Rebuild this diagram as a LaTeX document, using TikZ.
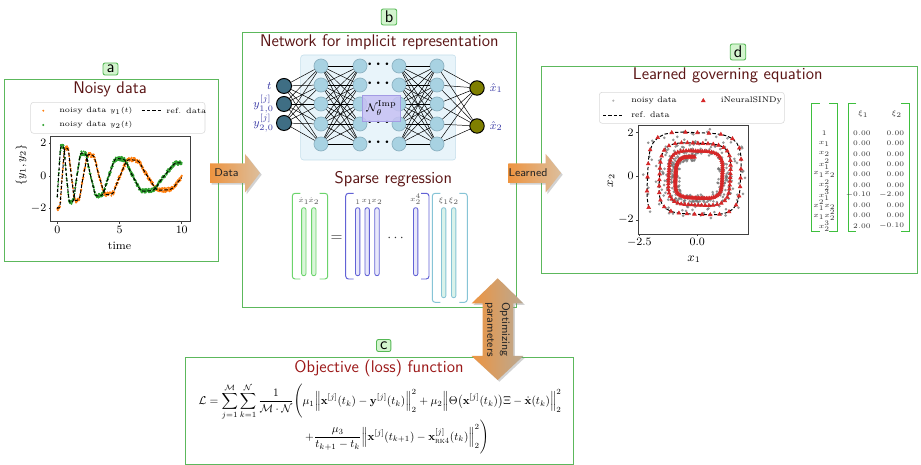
\documentclass[tikz,border=0pt]{standalone}
\usepackage{amsmath}
\usepackage{amssymb}
\usepackage{graphicx}
\usetikzlibrary{arrows.meta,calc,positioning,shadows,plotmarks}

\definecolor{boxgreen}{HTML}{5CB85C}
\definecolor{tagfill}{HTML}{D3F4CE}
\definecolor{tagline}{HTML}{55B855}
\definecolor{ttlred}{HTML}{5B1515}
\definecolor{lossred}{HTML}{9C1818}
\definecolor{inpcol}{HTML}{3F6E84}
\definecolor{hidcol}{HTML}{A8D2E2}
\definecolor{hidline}{HTML}{8CB2C2}
\definecolor{outcol}{HTML}{7F7F00}
\definecolor{netbg}{HTML}{E8F4FA}
\definecolor{netline}{HTML}{C4DEEB}
\definecolor{impfill}{HTML}{C7C1F3}
\definecolor{impline}{HTML}{A39BE4}
\definecolor{vlabel}{HTML}{3A3AA6}
\definecolor{mplorange}{HTML}{FF7F0E}
\definecolor{mplgreen}{HTML}{2CA02C}
\definecolor{mplred}{HTML}{D62728}
\definecolor{lhsline}{HTML}{6CD46C}
\definecolor{lhsfill}{HTML}{DAF6DA}
\definecolor{thline}{HTML}{6262D6}
\definecolor{thfill}{HTML}{E8E8FA}
\definecolor{xiline}{HTML}{86C4D6}
\definecolor{xifill}{HTML}{D9F2EA}
\definecolor{tabgreen}{HTML}{3DBF3D}
\definecolor{arrorange}{HTML}{EE9440}
\definecolor{arrtan}{HTML}{DCBE9C}
\definecolor{arrgray}{HTML}{B9A993}

\begin{document}
\pgfmathsetseed{42}
\begin{tikzpicture}[
    x=0.025cm, y=-0.025cm,
    declare function={
      amp(\s)=2/sqrt(1+0.525*\s);
      ph(\s)=deg(11.4*ln(1+0.525*\s)-2.17);
      sq(\a)=sqrt(sqrt(cos(\a)*cos(\a)*cos(\a)*cos(\a)+sin(\a)*sin(\a)*sin(\a)*sin(\a)));
      ya(\s)=amp(\s)*sin(ph(\s))/sq(ph(\s));
      yb(\s)=amp(\s)*cos(ph(\s))/sq(ph(\s));
    },
    panel/.style={draw=boxgreen, line width=0.6pt},
    tag/.style={draw=tagline, fill=tagfill, rounded corners=1.5pt, line width=0.6pt,
                font=\sffamily\fontsize{12}{12}\selectfont, inner xsep=2.5pt, inner ysep=1.5pt},
    ttl/.style={font=\sffamily\fontsize{12}{14}\selectfont, text=ttlred},
    inp/.style={circle, draw=black, fill=inpcol, line width=0.7pt, minimum size=0.375cm, inner sep=0pt},
    hid/.style={circle, draw=hidline, fill=hidcol, line width=0.5pt, minimum size=0.35cm, inner sep=0pt},
    outn/.style={circle, draw=black, fill=outcol, line width=0.7pt, minimum size=0.36cm, inner sep=0pt},
    wire/.style={line width=0.35pt, draw=black},
    vlab/.style={text=vlabel, font=\fontsize{8}{9}\selectfont, inner sep=0.5pt},
    mcol/.style={rectangle, rounded corners=1.5pt, line width=0.6pt, minimum width=0.11cm,
                 minimum height=1.7cm, inner sep=0pt},
    gcol/.style={mcol, draw=lhsline, fill=lhsfill},
    bcol/.style={mcol, draw=thline, fill=thfill},
    ccol/.style={mcol, draw=xiline, fill=xifill, minimum height=2.25cm},
    mlab/.style={text=gray!70!black, font=\fontsize{5.5}{6}\selectfont, inner sep=0.5pt},
    brak/.style={line width=0.7pt, rounded corners=2pt},
    frame/.style={draw=black!75, line width=0.5pt},
    tick/.style={font=\fontsize{8}{9}\selectfont, inner sep=1.5pt},
    legbox/.style={draw=black!15, fill=white, rounded corners=2pt, line width=0.4pt},
    legt/.style={font=\fontsize{5.4}{6}\selectfont, anchor=west, inner sep=0pt},
    refline/.style={black, line width=0.7pt, dash pattern=on 2.4pt off 1.4pt},
    tabt/.style={font=\fontsize{5.5}{6}\selectfont, text=black!80, inner sep=0pt},
    blockarr/.style={drop shadow={opacity=0.35, shadow xshift=1.2pt, shadow yshift=-1.2pt},
                     left color=arrorange, right color=arrtan},
    arrt/.style={font=\sffamily\fontsize{8}{10.5}\selectfont, text=black!85, align=center},
  ]
  \useasboundingbox (0,0) rectangle (921,465);
  \fill[white] (0,0) rectangle (921,465);

  % ---------------- (a) noisy data ----------------
  \draw[panel] (4,79) rectangle (218.3,261.7);
  \node[tag] (taga) at (110.5,69) {a};
  \node[ttl] (ttla) at (110,89.5) {Noisy data};

  \draw[legbox] (30.7,102.3) rectangle (205,133.3);
  \fill[mplorange] (43.3,110.7) circle (1.1);
  \fill[mplgreen] (43.3,125) circle (1.1);
  \node[legt] at (59,110.7) {noisy data $y_1(t)$};
  \node[legt] at (59,125) {noisy data $y_2(t)$};
  \draw[refline] (141.7,110.7) -- (161.7,110.7);
  \node[legt] at (166,110.7) {ref. data};

  \begin{scope}[shift={(57.3,176)}, x=0.311cm, y=0.41cm]
    \begin{scope}
      \clip (-0.53,-2.79) rectangle (10.67,2.40);
      \draw[mplorange] plot[only marks, mark=*, mark size=0.45pt, samples=420, domain=0:10]
        (\x,{ya(\x)+0.13*rand});
      \draw[mplgreen] plot[only marks, mark=*, mark size=0.45pt, samples=420, domain=0:10]
        (\x,{yb(\x)+0.13*rand});
      \draw[refline] plot[samples=300, domain=0:10] (\x,{ya(\x)});
      \draw[refline] plot[samples=300, domain=0:10] (\x,{yb(\x)});
    \end{scope}
    \draw[frame] (-0.53,-2.79) rectangle (10.67,2.40);
    \foreach \t in {0,5,10}
      \draw[frame] (\t,-2.79) -- ++(0,-0.12) node[tick, below] {$\t$};
    \foreach \v in {-2,0,2}
      \draw[frame] (-0.53,\v) -- ++(-0.16,0) node[tick, left] {$\v$};
    \node[tick] (tlab) at (5,-4.25) {time};
    \node[tick, rotate=90] (ylab) at (-2.9,0.67) {$\{y_1,y_2\}$};
  \end{scope}

  % ---------------- (b) network + sparse regression ----------------
  \draw[panel] (242.3,32.3) rectangle (516.7,307.7);
  \node[tag] (tagb) at (389,17) {b};
  \node[ttl] (ttlb) at (379.3,42.7) {Network for implicit representation};

  \draw[draw=netline, fill=netbg, rounded corners=2pt] (300.7,55) rectangle (455.7,160);

  \foreach \i/\y in {1/86,2/104,3/123}
    \node[inp] (in\i) at (284,\y) {};
  \foreach \c/\x in {1/321,2/360,3/399,4/437}
    \foreach \r/\y in {1/66,2/85,3/104,4/124,5/144}
      \node[hid] (h\c\r) at (\x,\y) {};
  \node[outn] (out1) at (477,88) {};
  \node[outn] (out2) at (477,126) {};

  \foreach \a in {1,2,3}
    \foreach \b in {1,...,5}
      \draw[wire] (in\a) -- (h1\b);
  \foreach \a in {1,...,5}
    \foreach \b in {1,...,5} {
      \draw[wire] (h1\a) -- (h2\b);
      \draw[wire] (h3\a) -- (h4\b);
    }
  \foreach \a in {1,...,5}
    \foreach \b in {1,2}
      \draw[wire] (h4\a) -- (out\b);

  \foreach \y in {66,85,124,144}
    \node[font=\large] at (380,\y-1.5) {$\boldsymbol{\cdots}$};
  \node[draw=impline, fill=impfill, fill opacity=0.85, text opacity=1, minimum width=0.94cm,
        minimum height=0.67cm, inner sep=0pt, font=\fontsize{8}{9}\selectfont] (nimp)
        at (381.5,108.3) {$\mathcal{N}_\theta^{\mathrm{Imp}}$};

  \node[vlab, left=2.5pt of in1] (lt) {$t$};
  \node[vlab, left=1pt of in2] (ly1) {$y^{[j]}_{1,0}$};
  \node[vlab, left=1pt of in3] (ly2) {$y^{[j]}_{2,0}$};
  \node[vlab, right=3pt of out1] (lx1) {$\hat{x}_1$};
  \node[vlab, right=3pt of out2] (lx2) {$\hat{x}_2$};

  \node[ttl] (ttlsr) at (393.3,179.5) {Sparse regression};

  % left-hand side, library and coefficient columns
  \draw[brak, lhsline] (300.3,193.3) -- (292.3,193.3) -- (292.3,279) -- (300.3,279);
  \draw[brak, lhsline] (319.7,193.3) -- (327.7,193.3) -- (327.7,279) -- (319.7,279);
  \draw[brak, thline] (353.7,193.3) -- (345.7,193.3) -- (345.7,279) -- (353.7,279);
  \draw[brak, thline] (421,193.3) -- (429,193.3) -- (429,279) -- (421,279);
  \draw[brak, xiline] (440.3,193.3) -- (432.3,193.3) -- (432.3,302.3) -- (440.3,302.3);
  \draw[brak, xiline] (459.3,193.3) -- (467.3,193.3) -- (467.3,302.3) -- (459.3,302.3);

  \node[gcol] (xd1) at (303.8,241.7) {};
  \node[gcol] (xd2) at (313.8,241.7) {};
  \node[bcol] (th1) at (357.7,241.7) {};
  \node[bcol] (th2) at (367.2,241.7) {};
  \node[bcol] (th3) at (377,241.7) {};
  \node[bcol] (th4) at (415.7,241.7) {};
  \node[ccol] (xi1) at (443.7,252.7) {};
  \node[ccol] (xi2) at (453.7,252.7) {};

  \node[mlab, above=1pt of xd1] {$\dot{x}_1$};
  \node[mlab, above=1pt of xd2] {$\dot{x}_2$};
  \node[mlab, above=1pt of th1] {$1$};
  \node[mlab, above=1pt of th2] {$x_1$};
  \node[mlab, above=1pt of th3] {$x_2$};
  \node[mlab, above=1pt of th4] {$x_2^4$};
  \node[mlab, above=1pt of xi1] {$\xi_1$};
  \node[mlab, above=1pt of xi2] {$\xi_2$};
  \node[font=\fontsize{11}{12}\selectfont, text=black!80] (eq) at (336.5,239) {$=$};
  \node[font=\fontsize{10}{12}\selectfont, text=black!80] (cd) at (396.7,238) {$\cdots$};

  % ---------------- (d) learned equation ----------------
  \draw[panel] (541.7,66.7) rectangle (917.7,273.3);
  \node[tag] (tagd) at (738,52) {d};
  \node[ttl] (ttld) at (727.7,75.7) {Learned governing equation};

  \draw[legbox] (599.3,92.3) rectangle (784.3,123.3);
  \fill[gray, opacity=0.6] (613.3,100.7) circle (1.2);
  \node[legt, font=\fontsize{5.8}{6}\selectfont] at (631,100.7) {noisy data};
  \path plot[mark=triangle*, mark size=1.5pt, mark options={mplred}] coordinates {(703.3,100.7)};
  \node[legt, font=\fontsize{5.8}{6}\selectfont] at (720.5,100.7) {iNeuralSINDy};
  \draw[refline] (603,115) -- (622,115);
  \node[legt, font=\fontsize{5.8}{6}\selectfont] at (631,115) {ref. data};

  \begin{scope}[shift={(697.3,176.3)}, x=0.58cm, y=0.545cm]
    \begin{scope}
      \clip (-2.54,-2.65) rectangle (2.2,2.35);
      \draw[black!55, opacity=0.6] plot[only marks, mark=*, mark size=0.75pt, samples=330, domain=0:10]
        ({1.1*ya(\x)+0.2*rand},{1.1*yb(\x)+0.2*rand});
      \draw[refline] plot[samples=400, domain=0:10] ({1.1*ya(\x)},{1.1*yb(\x)});
      \draw[mplred] plot[only marks, mark=triangle*, mark size=1.5pt, samples=201, domain=0:10]
        ({1.1*ya(\x)},{1.1*yb(\x)});
    \end{scope}
    \draw[frame] (-2.54,-2.65) rectangle (2.2,2.35);
    \foreach \t/\lab in {-2.5/-2.5,0/0.0}
      \draw[frame] (\t,-2.65) -- ++(0,-0.1) node[tick, below, font=\fontsize{8.5}{9}\selectfont] {$\lab$};
    \foreach \v in {-2,0,2}
      \draw[frame] (-2.54,\v) -- ++(-0.1,0) node[tick, left, font=\fontsize{8.5}{9}\selectfont] {$\v$};
    \node[font=\fontsize{9}{10}\selectfont] (x1lab) at (-0.14,-3.8) {$x_1$};
    \node[font=\fontsize{9}{10}\selectfont, rotate=90] (x2lab) at (-3.72,-0.2) {$x_2$};
  \end{scope}

  % coefficient table
  \draw[tabgreen, line width=0.8pt] (819.7,103.3) -- (811.7,103.3) -- (811.7,231.7) -- (819.7,231.7);
  \draw[tabgreen, line width=0.8pt] (829.3,103.3) -- (837.3,103.3) -- (837.3,231.7) -- (829.3,231.7);
  \draw[tabgreen, line width=0.8pt] (856.3,103.3) -- (848.3,103.3) -- (848.3,231.7) -- (856.3,231.7);
  \draw[tabgreen, line width=0.8pt] (901.3,103.3) -- (909.3,103.3) -- (909.3,231.7) -- (901.3,231.7);
  \node[tabt] (hxi1) at (863.3,114) {$\xi_1$};
  \node[tabt] (hxi2) at (896.7,114) {$\xi_2$};
  \foreach \lab [count=\k] in {1,x_1,x_2,x_1^2,x_1x_2,x_2^2,x_1^3,x_1^2x_2,x_1x_2^2,x_2^3}
    \node[tabt] (lib\k) at (824.3,{133.3+10.3*(\k-1)}) {$\lab$};
  \foreach \a/\b [count=\k] in {0.00/0.00,0.00/0.00,0.00/0.00,0.00/0.00,0.00/0.00,
                                0.00/0.00,-0.10/-2.00,0.00/0.00,0.00/0.00,2.00/-0.10} {
    \node[tabt, anchor=east] at (871,{133.3+10.3*(\k-1)}) {$\a$};
    \node[tabt, anchor=east] at (904.5,{133.3+10.3*(\k-1)}) {$\b$};
  }

  % ---------------- (c) loss ----------------
  \draw[panel] (185.7,357.7) rectangle (573.3,464);
  \node[tag] (tagc) at (383.7,345.5) {c};
  \node[ttl, text=lossred] (ttlc) at (379,368.3) {Objective (loss) function};
  \node (loss) at (380,419) {\resizebox{9.35cm}{!}{$
    \begin{array}{c}
      \displaystyle
      \mathcal{L} = \sum_{j=1}^{\mathcal{M}} \sum_{k=1}^{\mathcal{N}} \frac{1}{\mathcal{M}\cdot\mathcal{N}}
      \Biggl( \mu_1 \Bigl\| \mathbf{x}^{[j]}(t_k) - \mathbf{y}^{[j]}(t_k) \Bigr\|_2^2
      + \mu_2 \Bigl\| \Theta\bigl(\mathbf{x}^{[j]}(t_k)\bigr)\Xi - \dot{\mathbf{x}}(t_k) \Bigr\|_2^2 \\[2pt]
      \displaystyle
      \qquad\quad + \frac{\mu_3}{t_{k+1}-t_k} \Bigl\| \mathbf{x}^{[j]}(t_{k+1})
      - \mathbf{x}^{[j]}_{\textsc{rk4}}(t_k) \Bigr\|_2^2 \Biggr)
    \end{array}$}};

  % ---------------- block arrows ----------------
  \shade[blockarr] (210,163.5) -- (245,163.5) -- (245,154) -- (260,173) -- (245,192.5)
    -- (245,183) -- (210,183) -- cycle;
  \node[arrt] (datat) at (226.5,173) {Data};
  \shade[blockarr] (508.3,163.5) -- (545.7,163.5) -- (545.7,154) -- (561,173) -- (545.7,192.5)
    -- (545.7,183) -- (508.3,183) -- cycle;
  \node[arrt] (learnt) at (528,173) {Learned};
  \shade[blockarr, right color=arrgray] (497.7,278.3) -- (523.3,303.3) -- (513.3,303.3) -- (513.3,356)
    -- (523.3,356) -- (497.7,380) -- (471.7,356) -- (482.7,356) -- (482.7,303.3) -- (471.7,303.3) -- cycle;
  \node[arrt, rotate=-90] (optt) at (497.7,329.5) {Optimizing\\parameters};
\end{tikzpicture}
\end{document}
